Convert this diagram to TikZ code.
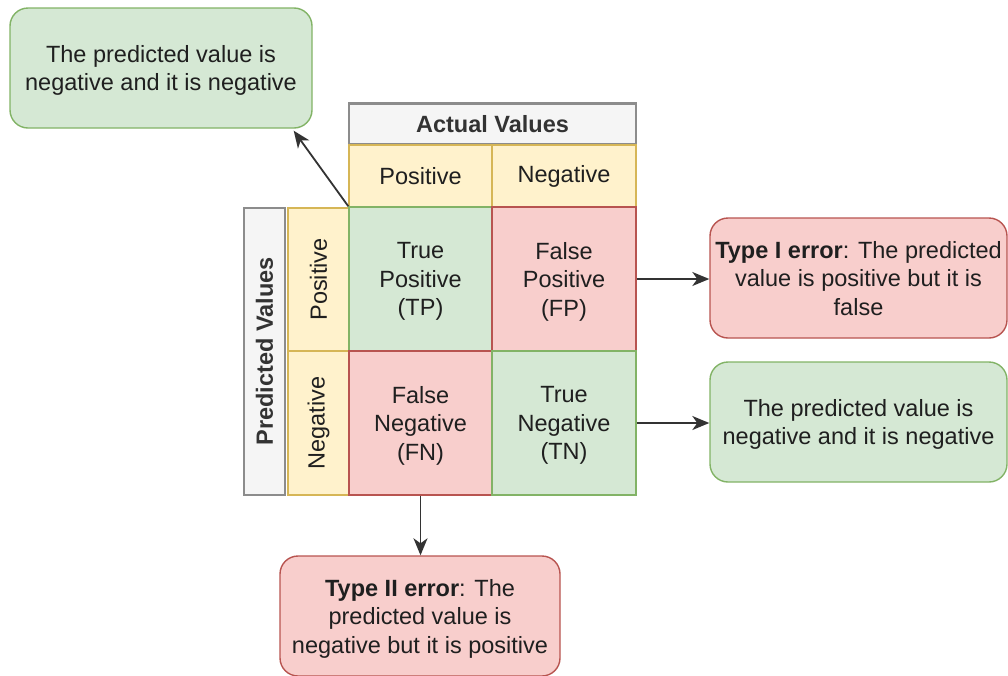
\documentclass[tikz,border=0pt]{standalone}
\usepackage{fontspec}
\setmainfont{Liberation Sans}
\usetikzlibrary{arrows.meta,calc}
\definecolor{gfill}{HTML}{D5E8D4}\definecolor{gline}{HTML}{82B366}
\definecolor{rfill}{HTML}{F8CECC}\definecolor{rline}{HTML}{B85450}
\definecolor{yfill}{HTML}{FFF2CC}\definecolor{yline}{HTML}{D6B656}
\definecolor{hfill}{HTML}{F5F5F5}\definecolor{hline}{HTML}{8C8C8C}
\definecolor{htext}{HTML}{333333}
\definecolor{ttext}{HTML}{1F1F1F}
\begin{document}
\begin{tikzpicture}[x=1pt,y=-1pt,
  base/.style={draw, line width=1.4pt, inner sep=0pt, align=center,
    font=\fontsize{23.5}{28.5}\selectfont, text=ttext},
  gbox/.style={base, fill=gfill, draw=gline},
  rbox/.style={base, fill=rfill, draw=rline},
  ybox/.style={base, fill=yfill, draw=yline},
  hbox/.style={base, fill=hfill, draw=hline, line width=2.6pt, text=htext,
    font=\fontsize{23.5}{28.5}\selectfont\bfseries},
  multi/.style={text depth=0pt},
  note/.style={rounded corners=18pt, minimum height=120pt, multi},
  arr/.style={-{Stealth[length=17pt,width=14pt,inset=5pt]}, line width=1.8pt, draw=black!80},
]
\useasboundingbox (0,0) rectangle (1008,675);

% header boxes
\node[hbox, minimum width=287pt, minimum height=41pt] (act) at (492.5,124) {Actual Values};
\node[hbox, rotate=90, minimum width=287pt, minimum height=41pt] (pred) at (264.5,351.5) {Predicted Values};

% column headers
\node[ybox, minimum width=143pt, minimum height=62pt] (cp) at (420.5,176) {Positive};
\node[ybox, minimum width=144pt, minimum height=62pt] (cn) at (564,176) {Negative};

% row headers
\node[ybox, rotate=90, minimum width=143pt, minimum height=61pt] (rp) at (318.5,279.5) {Positive};
\node[ybox, rotate=90, minimum width=144pt, minimum height=61pt] (rn) at (318.5,423) {Negative};

% cells
\node[gbox, multi, minimum width=143pt, minimum height=144pt] (tp) at (420.5,279) {True\\Positive\\(TP)};
\node[rbox, multi, minimum width=144pt, minimum height=144pt] (fp) at (564,279) {False\\Positive\\(FP)};
\node[rbox, multi, minimum width=143pt, minimum height=144pt] (fn) at (420.5,423) {False\\Negative\\(FN)};
\node[gbox, multi, minimum width=144pt, minimum height=144pt] (tn) at (564,423) {True\\Negative\\(TN)};

% notes
\node[gbox, note, minimum width=302pt] (tl) at (161,68) {The predicted value is\\negative and it is negative};
\node[rbox, note, minimum width=297pt] (r1) at (858.5,278) {\textbf{Type I error}: The predicted\\value is positive but it is\\false};
\node[gbox, note, minimum width=297pt] (r2) at (858.5,422) {The predicted value is\\negative and it is negative};
\node[rbox, note, minimum width=280pt] (bt) at (420,616) {\textbf{Type II error}: The\\predicted value is\\negative but it is positive};

% connectors
\draw[arr] (tp.north west) -- ($(tl.south east)+(-19,2)$);
\draw[arr] (fp.east) -- (fp.east -| r1.west);
\draw[arr] (tn.east) -- (tn.east -| r2.west);
\draw[arr] (fn.south) -- (fn.south |- bt.north);
\end{tikzpicture}
\end{document}
